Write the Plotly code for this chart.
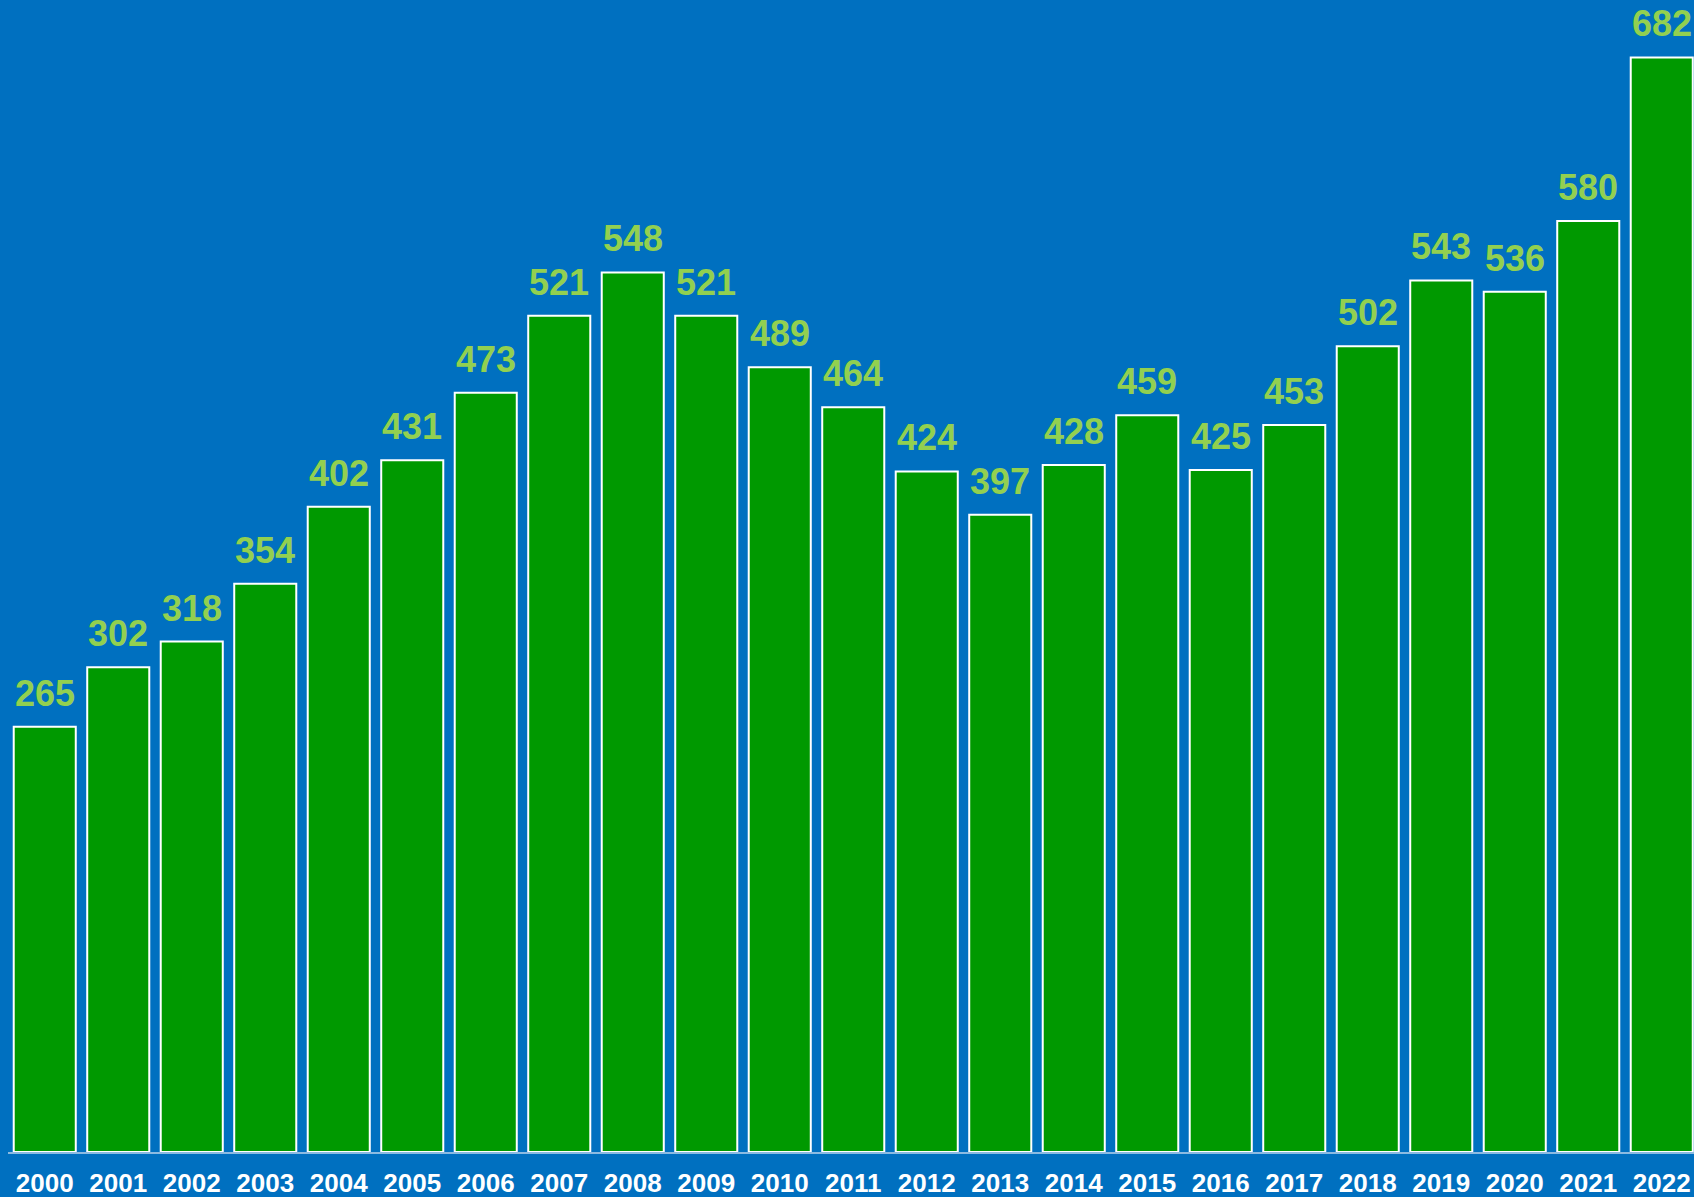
import plotly.graph_objects as go

years = [str(y) for y in range(2000, 2023)]
values = [265, 302, 318, 354, 402, 431, 473, 521, 548, 521, 489, 464, 424, 397,
          428, 459, 425, 453, 502, 543, 536, 580, 682]

BG = "#0070C0"
BAR = "#009900"
LABEL = "#92D050"
FONT = "Liberation Sans, Arial, sans-serif"

idx = list(range(len(years)))

fig = go.Figure()
fig.add_trace(go.Bar(
    x=idx, y=values,
    marker=dict(color=BAR, line=dict(color="white", width=2)),
    hoverinfo="skip",
))

for i, v in zip(idx, values):
    fig.add_annotation(
        x=i, y=v, xref="x", yref="y", text=f"<b>{v}</b>", showarrow=False,
        yanchor="bottom", yshift=11,
        font=dict(family=FONT, size=36, color=LABEL),
    )

fig.update_layout(
    width=1694, height=1197,
    paper_bgcolor=BG, plot_bgcolor=BG,
    margin=dict(l=8, r=0, t=0, b=45),
    bargap=0.156,
    showlegend=False,
    xaxis=dict(
        range=[-0.5, -0.5 + 1686 / 73.5],
        showgrid=False, zeroline=False,
        showline=True, linecolor="rgba(200,220,240,0.7)", linewidth=2,
        ticks="", tickfont=dict(family=FONT, size=26, color="white"),
        tickvals=idx, ticktext=[f"<b>{y}</b>" for y in years],
        ticklabelstandoff=7,
    ),
    yaxis=dict(
        range=[0, 1152 / 1.605],
        visible=False, showgrid=False, zeroline=False,
    ),
)

fig.write_html("out.html", config={"displayModeBar": False},
               post_script="document.body.style.margin='0';")
